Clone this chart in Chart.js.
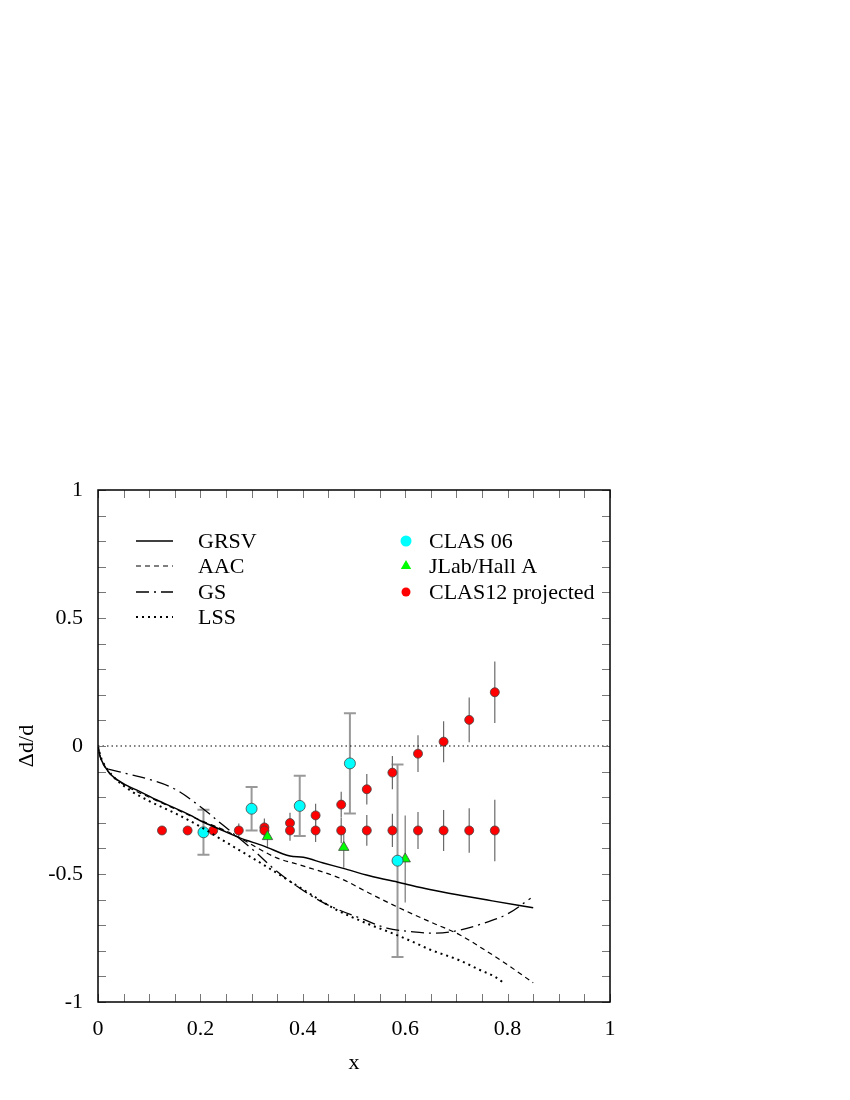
<!DOCTYPE html>
<html>
<head>
<meta charset="utf-8">
<script src="https://cdn.jsdelivr.net/npm/chart.js@4.4.1/dist/chart.umd.min.js"></script>
<style>
  html, body { margin: 0; background: #fff; }
  #wrap { position: relative; width: 850px; height: 1100px; }
</style>
</head>
<body>
<div id="wrap"><canvas id="chart" width="850" height="1100"></canvas></div>
<script>
// model curves
const grsvX = [0, 0.004, 0.01, 0.023, 0.049, 0.082, 0.115, 0.147, 0.18, 0.2, 0.24, 0.277, 0.323, 0.375, 0.401, 0.44, 0.479, 0.53, 0.59, 0.648, 0.707, 0.77, 0.85];
const grsvY = [0, -0.04, -0.068, -0.107, -0.146, -0.178, -0.211, -0.24, -0.27, -0.292, -0.327, -0.359, -0.39, -0.43, -0.435, -0.457, -0.478, -0.507, -0.534, -0.5605, -0.583, -0.605, -0.632];

const aacX = [0, 0.005, 0.02, 0.05, 0.1, 0.15, 0.2, 0.25, 0.284, 0.349, 0.395, 0.473, 0.53, 0.59, 0.65, 0.707, 0.75, 0.8, 0.85];
const aacY = [0, -0.045, -0.1, -0.15, -0.2, -0.245, -0.29, -0.332, -0.367, -0.437, -0.465, -0.517, -0.575, -0.634, -0.688, -0.738, -0.79, -0.855, -0.925];

const gsX = [0.02, 0.06, 0.1, 0.15, 0.2, 0.244, 0.303, 0.346, 0.388, 0.43, 0.47, 0.512, 0.564, 0.616, 0.66, 0.7, 0.746, 0.798, 0.845];
const gsY = [-0.09, -0.11, -0.13, -0.168, -0.237, -0.309, -0.406, -0.484, -0.547, -0.601, -0.64, -0.672, -0.711, -0.726, -0.731, -0.722, -0.697, -0.658, -0.595];

const lssX = [0, 0.005, 0.02, 0.05, 0.1, 0.15, 0.2, 0.232, 0.297, 0.329, 0.381, 0.42, 0.46, 0.525, 0.577, 0.616, 0.648, 0.707, 0.746, 0.775, 0.793];
const lssY = [0, -0.04, -0.095, -0.155, -0.215, -0.262, -0.315, -0.354, -0.432, -0.471, -0.536, -0.585, -0.634, -0.693, -0.733, -0.766, -0.795, -0.838, -0.875, -0.901, -0.926];

// data points
const clas06X = [0.206, 0.300, 0.394, 0.492, 0.585];
const clas06Y = [-0.337, -0.245, -0.234, -0.068, -0.448];
const clas06Err = [0.088, 0.085, 0.118, 0.196, 0.376];

const hallAX = [0.331, 0.480, 0.600];
const hallAY = [-0.354, -0.396, -0.441];
const hallAErr = [0.04, 0.08, 0.17];

const clas12X = [0.125, 0.175, 0.225, 0.275, 0.325, 0.375, 0.425, 0.475, 0.525, 0.575, 0.625, 0.675, 0.725, 0.775];
const clas12Y = [-0.33, -0.33, -0.33, -0.33, -0.33, -0.33, -0.33, -0.33, -0.33, -0.33, -0.33, -0.33, -0.33, -0.33];
const clas12Err = [0.012, 0.014, 0.016, 0.027, 0.035, 0.04, 0.045, 0.05, 0.06, 0.065, 0.072, 0.08, 0.087, 0.12];

const clas12bX = [0.325, 0.375, 0.425, 0.475, 0.525, 0.575, 0.625, 0.675, 0.725, 0.775];
const clas12bY = [-0.318, -0.301, -0.271, -0.229, -0.169, -0.104, -0.030, 0.017, 0.102, 0.21];
const clas12bErr = [0.035, 0.04, 0.045, 0.05, 0.06, 0.065, 0.072, 0.08, 0.087, 0.12];

const xTickLabels = ['0', '0.2', '0.4', '0.6', '0.8', '1'];
const yTickLabels = ['-1', '-0.5', '0', '0.5', '1'];

const FONT = 'Liberation Serif';

function pts(xs, ys) {
    return xs.map((x, i) => ({ x: x, y: ys[i] }));
}

function curve(label, xs, ys, dash, width) {
    return {
        type: 'line', label: label, data: pts(xs, ys),
        borderColor: '#000', borderWidth: width, borderDash: dash,
        pointRadius: 0, fill: false, cubicInterpolationMode: 'monotone',
        legendCol: 0
    };
}

function points(label, xs, ys, errs, style, color, radius, errStyle) {
    return {
        type: 'scatter', label: label, data: pts(xs, ys), errors: errs, errStyle: errStyle,
        pointStyle: style, pointRadius: radius, pointBackgroundColor: color,
        pointBorderColor: '#444', pointBorderWidth: 0.8, showLine: false,
        legendCol: 1
    };
}

// error bars, drawn under the markers
const errorBars = {
    id: 'errorBars',
    beforeDatasetsDraw(chart) {
        const ctx = chart.ctx;
        const xs = chart.scales.x, ys = chart.scales.y;
        chart.data.datasets.forEach(ds => {
            if (!ds.errors) return;
            const st = ds.errStyle;
            ctx.save();
            ctx.strokeStyle = st.color;
            ctx.lineWidth = st.width;
            ds.data.forEach((p, i) => {
                const e = ds.errors[i];
                const px = xs.getPixelForValue(p.x);
                const y1 = ys.getPixelForValue(p.y + e);
                const y2 = ys.getPixelForValue(p.y - e);
                ctx.beginPath();
                ctx.moveTo(px, y1);
                ctx.lineTo(px, y2);
                if (st.cap) {
                    ctx.moveTo(px - st.cap, y1); ctx.lineTo(px + st.cap, y1);
                    ctx.moveTo(px - st.cap, y2); ctx.lineTo(px + st.cap, y2);
                }
                ctx.stroke();
            });
            ctx.restore();
        });
    }
};

// inward ticks on all four sides plus the closed frame
const frame = {
    id: 'frame',
    afterDraw(chart) {
        const ctx = chart.ctx;
        const a = chart.chartArea;
        const xs = chart.scales.x, ys = chart.scales.y;
        ctx.save();
        ctx.strokeStyle = '#777';
        ctx.lineWidth = 1;
        ctx.beginPath();
        xs.ticks.forEach(t => {
            const px = Math.round(xs.getPixelForValue(t.value)) + 0.5;
            ctx.moveTo(px, a.bottom); ctx.lineTo(px, a.bottom - 8);
            ctx.moveTo(px, a.top); ctx.lineTo(px, a.top + 8);
        });
        ys.ticks.forEach(t => {
            const py = Math.round(ys.getPixelForValue(t.value)) + 0.5;
            ctx.moveTo(a.left, py); ctx.lineTo(a.left + 8, py);
            ctx.moveTo(a.right, py); ctx.lineTo(a.right - 8, py);
        });
        ctx.stroke();
        ctx.strokeStyle = '#000';
        ctx.lineWidth = 1.5;
        ctx.strokeRect(a.left, a.top, a.right - a.left, a.bottom - a.top);
        ctx.restore();
    }
};

// two-column legend inside the plot
const innerLegend = {
    id: 'innerLegend',
    afterDatasetsDraw(chart) {
        const ctx = chart.ctx;
        const a = chart.chartArea;
        const rowY = [541, 566, 592, 617];
        const rows = [0, 0];
        ctx.save();
        ctx.font = '22px "' + FONT + '"';
        ctx.textBaseline = 'middle';
        ctx.fillStyle = '#000';
        chart.data.datasets.forEach(ds => {
            if (ds.legendCol === undefined || ds.noLegend) return;
            const col = ds.legendCol;
            const y = rowY[rows[col]++];
            if (col === 0) {
                ctx.save();
                ctx.strokeStyle = ds.borderColor;
                ctx.lineWidth = ds.borderWidth;
                ctx.setLineDash(ds.borderDash || []);
                ctx.beginPath();
                ctx.moveTo(a.left + 38, y);
                ctx.lineTo(a.left + 75, y);
                ctx.stroke();
                ctx.restore();
                ctx.fillText(ds.label, a.left + 100, y + 1);
            } else {
                ctx.save();
                ctx.fillStyle = ds.pointBackgroundColor;
                ctx.strokeStyle = ds.pointBackgroundColor;
                Chart.helpers.drawPoint(ctx, { pointStyle: ds.pointStyle, radius: ds.pointRadius, borderWidth: 0 }, a.left + 308, y);
                ctx.restore();
                ctx.fillText(ds.label, a.left + 331, y + 1);
            }
        });
        ctx.restore();
    }
};

const redBars = { color: '#6a6a6a', width: 1.2, cap: 0 };

const gsCurve = curve('GS', gsX, gsY, [13, 5, 2, 5], 1.3);
gsCurve.cubicInterpolationMode = 'default';
gsCurve.tension = 0.35;

const datasets = [
    {
        type: 'line', label: 'zero', data: [{ x: 0, y: 0 }, { x: 1, y: 0 }],
        borderColor: '#000', borderWidth: 1, borderDash: [1.5, 3], pointRadius: 0
    },
    curve('GRSV', grsvX, grsvY, [], 1.5),
    curve('AAC', aacX, aacY, [5, 4], 1.2),
    gsCurve,
    curve('LSS', lssX, lssY, [2, 4], 2),
    points('CLAS 06', clas06X, clas06Y, clas06Err, 'circle', '#00ffff', 5.5, { color: '#999', width: 2, cap: 6 }),
    points('JLab/Hall A', hallAX, hallAY, hallAErr, 'triangle', '#00ff00', 6, { color: '#777', width: 1.2, cap: 0 }),
    points('CLAS12 projected', clas12X, clas12Y, clas12Err, 'circle', '#ff0000', 4.5, redBars),
    Object.assign(points('CLAS12 projected', clas12bX, clas12bY, clas12bErr, 'circle', '#ff0000', 4.5, redBars), { noLegend: true })
];

function near(v, list) {
    return list.find(s => Math.abs(parseFloat(s) - v) < 1e-6);
}

new Chart(document.getElementById('chart'), {
    type: 'scatter',
    data: { datasets: datasets },
    options: {
        responsive: false,
        animation: false,
        devicePixelRatio: 1,
        layout: { padding: { top: 490, right: 240, left: 0, bottom: 0 } },
        plugins: { legend: { display: false }, tooltip: { enabled: false } },
        scales: {
            x: {
                type: 'linear', min: 0, max: 1,
                afterFit(s) { s.height = 98; },
                ticks: {
                    stepSize: 0.05, autoSkip: false, maxRotation: 0, padding: 14,
                    color: '#000', font: { family: FONT, size: 22 },
                    callback: v => near(v, xTickLabels) || ''
                },
                grid: { drawOnChartArea: false, drawTicks: false },
                border: { display: false },
                title: { display: true, text: 'x', color: '#000', font: { family: FONT, size: 22 }, padding: { top: 0, bottom: 24 } }
            },
            y: {
                type: 'linear', min: -1, max: 1,
                afterFit(s) { s.width = 98; },
                ticks: {
                    stepSize: 0.1, autoSkip: false, padding: 15,
                    color: '#000', font: { family: FONT, size: 22 },
                    callback: v => near(v, yTickLabels) || ''
                },
                grid: { drawOnChartArea: false, drawTicks: false },
                border: { display: false },
                title: { display: true, text: 'Δd/d', color: '#000', font: { family: FONT, size: 22 }, padding: { top: 14, bottom: 0 } }
            }
        }
    },
    plugins: [errorBars, frame, innerLegend]
});
</script>
</body>
</html>
